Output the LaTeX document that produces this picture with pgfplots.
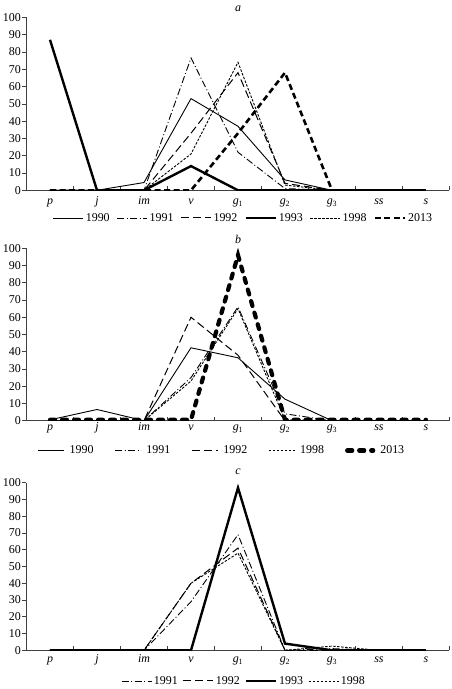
\documentclass[border=0pt]{standalone}
\usepackage{fontspec}
\setmainfont{Liberation Serif}
\usepackage{pgfplots}
\pgfplotsset{compat=1.18}

\newcommand{\fs}{\fontsize{12}{14}\selectfont}

\pgfplotsset{
  every axis title/.style={at={(0.5,1)}, anchor=base, inner sep=0pt, font=\fs},
  panel/.style={
    scale only axis, width=423bp,
    xmin=-0.5, xmax=8.5, ymin=0, ymax=100,
    axis lines=left, axis line style={-, black!75, line width=0.6bp},
    xtick={0.5,1.5,...,8.5}, xticklabels={},
    extra x ticks={0,1,2,3,4,5,6,7,8},
    extra x tick labels={\textit{p},\textit{j},\textit{im},\textit{v},\textit{g}\textsubscript{1},\textit{g}\textsubscript{2},\textit{g}\textsubscript{3},\textit{ss},\textit{s}},
    ytick={0,10,...,100},
    xtick align=inside, ytick align=outside,
    major tick length=4bp,
    tick style={black!75, line width=0.6bp},
    /pgf/number format/assume math mode=true,
    tick label style={font=\fs},
    yticklabel style={inner sep=1.5bp},
    legend style={draw=none, fill=none, font=\fs, anchor=center, inner sep=0pt, nodes={inner sep=0pt}},
    legend columns=-1,
  },
  s1990/.style={black, line width=0.9bp, solid},
  s1991/.style={black, line width=0.9bp, dash pattern=on 7bp off 2.5bp on 1bp off 2.5bp},
  s1992/.style={black, line width=1bp, dash pattern=on 8bp off 4bp},
  s1993/.style={black, line width=2.4bp},
  s1998/.style={black, line width=0.9bp, dash pattern=on 2.5bp off 1.5bp},
  s2013a/.style={black, line width=2.6bp, dash pattern=on 6bp off 3.5bp},
  s2013b/.style={black, line width=4.2bp, dash pattern=on 5bp off 7bp, line cap=round},
}

\begin{document}
\fs
\begin{tikzpicture}
\path[use as bounding box] (0,0) rectangle (452bp,-689bp);

% ---------------- panel a ----------------
\begin{axis}[panel, at={(26.5bp,-190.3bp)}, anchor=south west, height=173bp,
  title={\textit{a}}, title style={yshift=5.6bp},
  extra x tick style={major tick length=0pt, tick style={draw=none}, xticklabel style={anchor=base, yshift=-14.5bp}},
  legend style={at={(axis description cs:0.5106,-0.160)},
    /tikz/every odd column/.append style={column sep=2bp},
    /tikz/every even column/.append style={column sep=7bp}},
  legend image code/.code={\draw[#1] (0bp,0bp) -- (30bp,0bp);},
]
\addplot[s1990] coordinates {(0,0) (1,0) (2,4.5) (3,53) (4,37) (5,6) (6,0) (7,0) (8,0)};
\addlegendentry{1990}
\addplot[s1991] coordinates {(0,0) (1,0) (2,0) (3,76.5) (4,22) (5,1) (6,0) (7,0) (8,0)};
\addlegendentry{1991}
\addplot[s1992] coordinates {(0,0) (1,0) (2,0) (3,33) (4,68) (5,4) (6,0) (7,0) (8,0)};
\addlegendentry{1992}
\addplot[s1993] coordinates {(0,87) (1,0) (2,0) (3,14) (4,0) (5,0) (6,0) (7,0) (8,0)};
\addlegendentry{1993}
\addplot[s1998] coordinates {(0,0) (1,0) (2,0) (3,21) (4,74) (5,3) (6,0) (7,0) (8,0)};
\addlegendentry{1998}
\addplot[s2013a] coordinates {(0,0) (1,0) (2,0) (3,0) (4,33) (5,68) (6,0) (7,0) (8,0)};
\addlegendentry{2013}
\end{axis}

% ---------------- panel b ----------------
\begin{axis}[panel, at={(26.5bp,-420.7bp)}, anchor=south west, height=172.4bp,
  title={\textit{b}}, title style={yshift=5bp},
  extra x tick style={major tick length=0pt, tick style={draw=none}, xticklabel style={anchor=base, yshift=-10bp}},
  legend style={at={(axis description cs:0.4598,-0.1729)},
    /tikz/every odd column/.append style={column sep=5bp},
    /tikz/every even column/.append style={column sep=21bp}},
  legend image code/.code={\draw[#1] (0bp,0bp) -- (26bp,0bp);},
]
\addplot[s1990] coordinates {(0,0.5) (1,6.5) (2,0) (3,42.3) (4,36.5) (5,12.5) (6,0) (7,0) (8,0)};
\addlegendentry{1990}
\addplot[s1991] coordinates {(0,0) (1,0) (2,0) (3,25) (4,66) (5,4) (6,0) (7,0) (8,0)};
\addlegendentry{1991}
\addplot[s1992] coordinates {(0,0) (1,0) (2,0) (3,60) (4,38) (5,0) (6,0) (7,0) (8,0)};
\addlegendentry{1992}
\addplot[s1998] coordinates {(0,0) (1,0) (2,0) (3,23) (4,65) (5,0.5) (6,0) (7,0) (8,0)};
\addlegendentry{1998}
\addplot[s2013b] coordinates {(0,0.5) (1,0.5) (2,0.5) (3,0.5) (4,96) (5,0.5) (6,0.5) (7,0.5) (8,0.5)};
\addlegendentry{2013}
\end{axis}

% ---------------- panel c ----------------
\begin{axis}[panel, at={(26.5bp,-650.3bp)}, anchor=south west, height=167.6bp,
  title={\textit{c}}, title style={yshift=8.5bp},
  extra x tick style={major tick length=0pt, tick style={draw=none}, xticklabel style={anchor=base, yshift=-12bp}},
  legend style={at={(axis description cs:0.5118,-0.183)},
    /tikz/every odd column/.append style={column sep=2bp},
    /tikz/every even column/.append style={column sep=5bp}},
  legend image code/.code={\draw[#1] (0bp,0bp) -- (30bp,0bp);},
]
\addplot[s1991] coordinates {(0,0) (1,0) (2,0) (3,29) (4,69) (5,0) (6,1) (7,0) (8,0)};
\addlegendentry{1991}
\addplot[s1992] coordinates {(0,0) (1,0) (2,0) (3,40) (4,61) (5,0) (6,0) (7,0) (8,0)};
\addlegendentry{1992}
\addplot[s1993] coordinates {(0,0) (1,0) (2,0) (3,0) (4,97) (5,4) (6,0) (7,0) (8,0)};
\addlegendentry{1993}
\addplot[s1998] coordinates {(0,0) (1,0) (2,0) (3,40) (4,58) (5,0) (6,2.5) (7,0) (8,0)};
\addlegendentry{1998}
\end{axis}
\end{tikzpicture}
\end{document}
